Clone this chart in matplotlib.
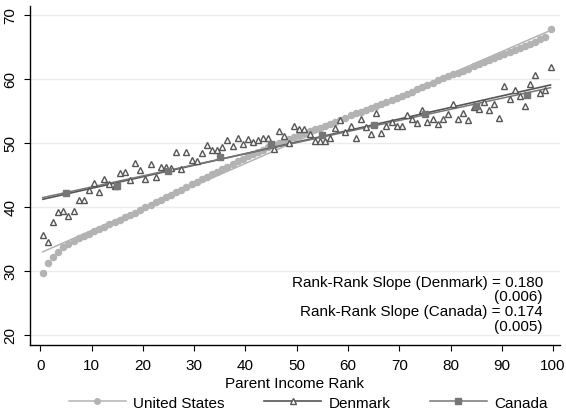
import matplotlib
matplotlib.use('Agg')

import matplotlib.pyplot as plt
import numpy as np
from matplotlib.lines import Line2D

plt.rcParams['font.family'] = ['Liberation Sans', 'DejaVu Sans']

# parent income percentiles (plotted at bin centres)
ranks = np.arange(100) + 0.5
canada_ranks = np.arange(5, 100, 10)

us_kid_rank = [
    29.6, 31.2, 32.1, 33.0, 33.7, 34.2, 34.7, 35.1, 35.5, 35.8,
    36.3, 36.6, 36.9, 37.3, 37.7, 38.0, 38.4, 38.7, 39.1, 39.5,
    39.9, 40.3, 40.7, 41.1, 41.5, 41.9, 42.3, 42.7, 43.1, 43.5,
    43.9, 44.3, 44.7, 45.1, 45.5, 45.9, 46.3, 46.7, 47.1, 47.5,
    47.9, 48.2, 48.6, 48.9, 49.3, 49.6, 50.0, 50.3, 50.6, 50.9,
    51.2, 51.5, 51.8, 52.1, 52.4, 52.7, 53.0, 53.3, 53.6, 53.9,
    54.3, 54.6, 54.9, 55.2, 55.5, 55.8, 56.1, 56.4, 56.7, 57.0,
    57.3, 57.7, 58.0, 58.4, 58.7, 59.1, 59.4, 59.8, 60.1, 60.4,
    60.7, 61.0, 61.3, 61.6, 62.0, 62.3, 62.6, 63.0, 63.3, 63.6,
    63.9, 64.2, 64.5, 64.8, 65.1, 65.4, 65.8, 66.2, 66.6, 67.8,
]

denmark_kid_rank = [
    35.6, 34.5, 37.7, 39.2, 39.3, 38.5, 39.4, 41.1, 41.1, 42.6,
    43.7, 42.3, 44.4, 43.5, 43.3, 45.3, 45.5, 44.2, 46.8, 45.7,
    44.4, 46.7, 44.6, 46.3, 46.3, 46.1, 48.6, 45.9, 48.6, 47.3,
    47.2, 48.4, 49.7, 48.9, 48.9, 49.4, 50.4, 49.5, 50.8, 49.8,
    50.6, 50.2, 50.4, 50.8, 50.8, 49.1, 51.9, 51.0, 50.0, 52.6,
    52.2, 52.2, 51.4, 50.3, 50.3, 50.3, 50.8, 52.3, 53.6, 51.7,
    52.6, 50.8, 53.7, 52.5, 51.4, 54.6, 51.5, 52.6, 53.3, 52.6,
    52.6, 54.3, 53.7, 53.1, 55.2, 53.3, 53.7, 53.0, 53.7, 54.5,
    56.1, 53.7, 54.6, 53.6, 55.6, 55.3, 56.4, 55.2, 56.1, 53.9,
    58.9, 56.9, 58.3, 57.3, 55.7, 59.2, 60.6, 57.8, 58.3, 61.8,
]

canada_kid_rank = [42.2, 43.2, 45.6, 47.8, 49.8, 51.3, 52.8, 54.5, 55.7, 57.5]

slope_notes = [
    "Rank-Rank Slope (Denmark) = 0.180",
    "(0.006)",
    "Rank-Rank Slope (Canada) = 0.174",
    "(0.005)",
]

US_COL = '#b3b3b3'
DK_COL = '#555555'
CA_COL = '#767676'
FS = 11


def fit_line(x, y):
    b, a = np.polyfit(x, y, 1)
    xs = np.array([0.5, 99.5])
    return xs, a + b * xs


fig = plt.figure(figsize=(5.66, 4.10), dpi=100)
ax = fig.add_axes([0.053, 0.156, 0.936, 0.827])

ax.set_xlim(-2, 101.3)
ax.set_ylim(18.4, 71.4)
ax.set_yticks(range(20, 71, 10))
ax.set_xticks(range(0, 101, 10))
ax.grid(axis='y', color='#ececec', lw=1)
ax.set_axisbelow(True)
for s in ('top', 'right'):
    ax.spines[s].set_visible(False)
for s in ('left', 'bottom'):
    ax.spines[s].set_linewidth(1.0)
ax.tick_params(labelsize=FS, length=4, width=0.8, pad=5)
for lab in ax.get_yticklabels():
    lab.set_rotation(90)
    lab.set_va('center')

# scatter points
ax.plot(ranks, us_kid_rank, 'o', ms=4.4, color=US_COL, mec=US_COL, zorder=3)
ax.plot(ranks, denmark_kid_rank, '^', ms=4.6, mfc='white', mec=DK_COL,
        mew=1.0, zorder=4)
ax.plot(canada_ranks, canada_kid_rank, 's', ms=4.5, color=CA_COL, zorder=4)

# linear fits
ax.plot(*fit_line(ranks, us_kid_rank), color=US_COL, lw=1.1, zorder=2)
ax.plot(*fit_line(ranks, denmark_kid_rank), color=DK_COL, lw=1.2, zorder=3)
ax.plot(*fit_line(canada_ranks, canada_kid_rank), color=CA_COL, lw=1.1, zorder=3)

ys = [28.3, 26.0, 23.7, 21.4]
for txt, yv in zip(slope_notes, ys):
    ax.text(98, yv, txt, ha='right', va='center', fontsize=FS)

ax.set_xlabel("Parent Income Rank", fontsize=FS, labelpad=3)

handles = [
    Line2D([], [], color=US_COL, lw=1.1, marker='o', ms=4, mec=US_COL),
    Line2D([], [], color=DK_COL, lw=1.2, marker='^', ms=4, mfc='white', mec=DK_COL),
    Line2D([], [], color=CA_COL, lw=1.1, marker='s', ms=4),
]
fig.legend(handles, ["United States", "Denmark", "Canada"], loc='lower center',
           bbox_to_anchor=(0.545, -0.035), ncol=3, frameon=False, fontsize=FS,
           handlelength=3.7, columnspacing=2.6, handletextpad=0.5)

fig.savefig('out.png', dpi=100)
